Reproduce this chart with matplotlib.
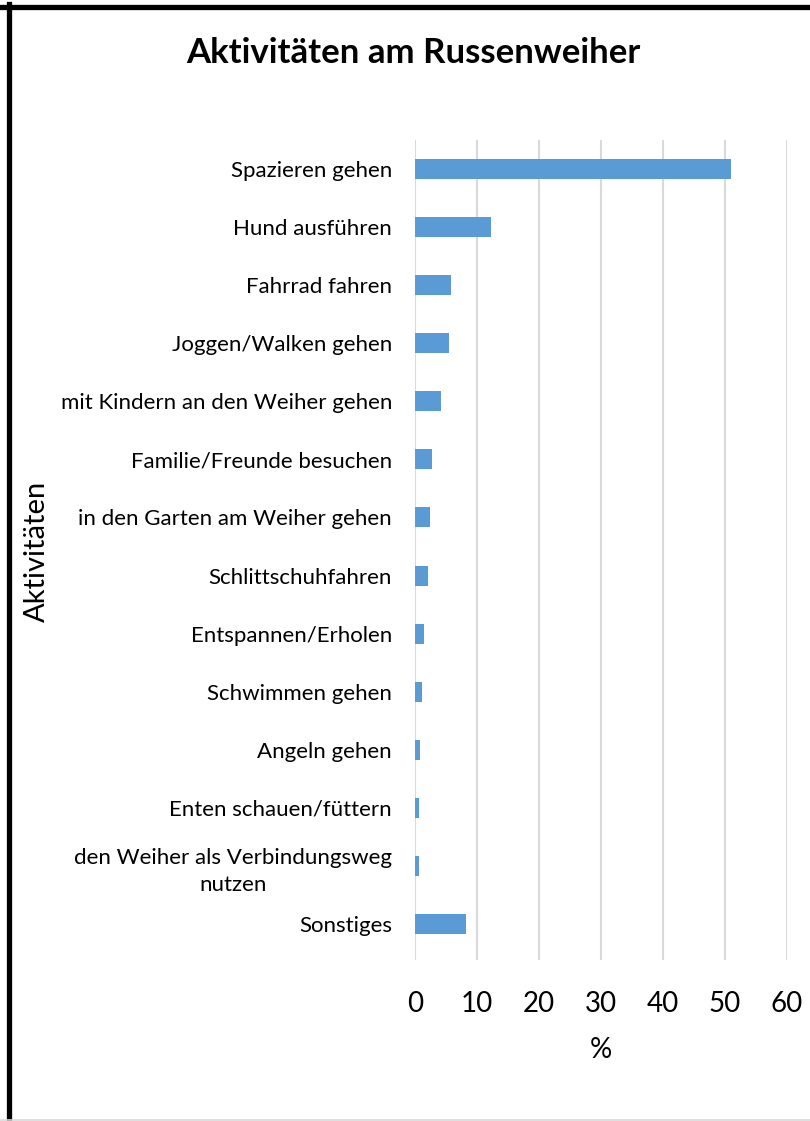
import matplotlib
matplotlib.use("Agg")
import matplotlib.pyplot as plt
from matplotlib.lines import Line2D

categories = [
    "Spazieren gehen",
    "Hund ausführen",
    "Fahrrad fahren",
    "Joggen/Walken gehen",
    "mit Kindern an den Weiher gehen",
    "Familie/Freunde besuchen",
    "in den Garten am Weiher gehen",
    "Schlittschuhfahren",
    "Entspannen/Erholen",
    "Schwimmen gehen",
    "Angeln gehen",
    "Enten schauen/füttern",
    "den Weiher als Verbindungsweg\nnutzen",
    "Sonstiges",
]
values = [51.0, 12.3, 5.8, 5.5, 4.2, 2.7, 2.4, 2.1, 1.5, 1.2, 0.85, 0.6, 0.6, 8.3]
xticks = [0, 10, 20, 30, 40, 50, 60]

plt.rcParams['font.family'] = ['Lato', 'DejaVu Sans']

W, H = 810, 1121
fig = plt.figure(figsize=(W / 100, H / 100), dpi=100)
ax = fig.add_axes([415 / W, 1 - 960 / H, (787 - 415) / W, (960 - 140) / H])

y = list(range(len(categories)))
ax.barh(y, values, height=0.345, color="#5b9bd5", zorder=3)
ax.set_xlim(0, 60)
ax.set_ylim(13.5 + 7 / 58.08, -0.5)
ax.set_xticks(xticks)
ax.set_xticklabels([str(t) for t in xticks], fontsize=20)
ax.set_yticks(y)
ax.set_yticklabels(categories, fontsize=16, ma='center', linespacing=1.45)
ax.tick_params(axis='both', length=0)
ax.tick_params(axis='x', pad=22.5)
ax.tick_params(axis='y', pad=16.5)
for s in ax.spines.values():
    s.set_visible(False)
ax.grid(axis='x', color="#d9d9d9", linewidth=1.5, zorder=0)
ax.set_xlabel("%", fontsize=20, labelpad=14)

fig.text(37 / W, 1 - 551 / H, "Aktivitäten", rotation=90, fontsize=21,
         ha='center', va='center')
fig.text(413 / W, 1 - 53 / H, "Aktivitäten am Russenweiher", fontsize=25,
         fontweight='bold', ha='center', va='center')

# frame
fig.add_artist(Line2D([0, 1], [1 - 6.5 / H, 1 - 6.5 / H], transform=fig.transFigure,
                      color='black', linewidth=3.8))
fig.add_artist(Line2D([8.5 / W, 8.5 / W], [0, 1 - 4 / H], transform=fig.transFigure,
                      color='black', linewidth=3.8))
fig.add_artist(Line2D([0, 1], [1 - 1120 / H, 1 - 1120 / H], transform=fig.transFigure,
                      color='#d9d9d9', linewidth=1.2))

fig.savefig("out.png", dpi=100)
